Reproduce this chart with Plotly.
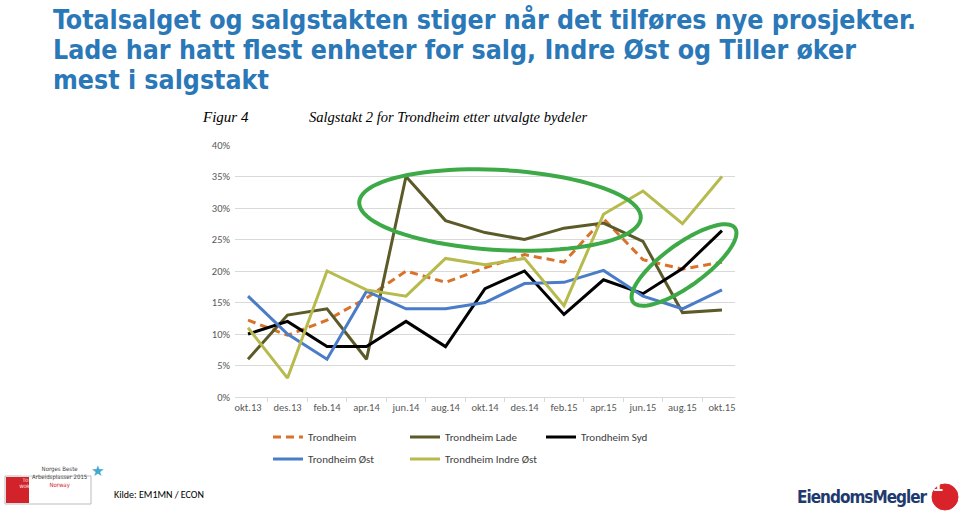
import math
import plotly.graph_objects as go

# ---------------- data ----------------
months = ["okt.13", "des.13", "feb.14", "apr.14", "jun.14", "aug.14", "okt.14",
          "des.14", "feb.15", "apr.15", "jun.15", "aug.15", "okt.15"]

trondheim = [12.2, 9.8, 12.2, 15.7, 20.0, 18.2, 20.5, 22.6, 21.4, 28.3, 21.8, 20.3, 21.4]
lade = [6.0, 13.0, 14.0, 6.0, 35.0, 28.0, 26.1, 25.0, 26.8, 27.6, 24.7, 13.4, 13.8]
syd = [10.0, 12.0, 8.0, 8.0, 12.0, 8.0, 17.2, 20.0, 13.1, 18.6, 16.4, 20.4, 26.4]
ost = [16.0, 10.0, 6.0, 16.8, 14.0, 14.0, 15.0, 18.0, 18.2, 20.1, 16.0, 14.0, 17.0]
indre_ost = [11.0, 3.0, 20.0, 17.0, 16.0, 22.0, 21.0, 22.0, 14.5, 29.0, 32.7, 27.5, 35.0]

W, H = 960, 512
# plot area in window pixel coordinates
PL, PR, PT, PB = 235, 735, 145, 397


def px2paper(x, y):
    return (x - PL) / (PR - PL), (PB - y) / (PB - PT)


def ellipse_path(cx, cy, a, b, theta_deg, n=90):
    th = math.radians(theta_deg)
    pts = []
    for i in range(n + 1):
        t = 2 * math.pi * i / n
        x = cx + a * math.cos(t) * math.cos(th) - b * math.sin(t) * math.sin(th)
        y = cy + a * math.cos(t) * math.sin(th) + b * math.sin(t) * math.cos(th)
        px, py = px2paper(x, y)
        pts.append(f"{px:.5f},{py:.5f}")
    return "M " + " L ".join(pts) + " Z"


fig = go.Figure()

series = [
    ("Trondheim", trondheim, "#D9732B", "8px,5px", "legend"),
    ("Trondheim Lade", lade, "#5B5A28", "solid", "legend2"),
    ("Trondheim Syd", syd, "#000000", "solid", "legend3"),
    ("Trondheim Øst", ost, "#4A7CC8", "solid", "legend"),
    ("Trondheim Indre Øst", indre_ost, "#B7BA4C", "solid", "legend2"),
]
for name, vals, col, dash, leg in series:
    fig.add_trace(go.Scatter(
        x=months, y=vals, mode="lines", name=name,
        line=dict(color=col, width=3, dash=dash),
        legend=leg, legendgroup=name, hoverinfo="skip"))

xtickfont = dict(family="Carlito, Lato, Liberation Sans, sans-serif", size=10.5, color="#595959")
ytickfont = dict(family="Carlito, Lato, Liberation Sans, sans-serif", size=10.5, color="#595959")
legfont = dict(family="Carlito, Lato, Liberation Sans, sans-serif", size=11, color="#404040")


def leg(xpx, ycenter):
    return dict(orientation="v", x=px2paper(xpx, 0)[0], xanchor="left",
                y=px2paper(0, ycenter)[1], yanchor="middle",
                font=legfont, bgcolor="rgba(0,0,0,0)", itemwidth=30,
                traceorder="grouped", tracegroupgap=3)


fig.update_layout(
    width=W, height=H,
    margin=dict(l=PL, r=W - PR, t=PT, b=H - PB, autoexpand=False),
    paper_bgcolor="white", plot_bgcolor="white",
    showlegend=True,
    xaxis=dict(type="category", range=[-0.33, 12.33], showgrid=False,
               showline=True, linecolor="#D9D9D9", linewidth=1,
               ticks="outside", tickson="boundaries", ticklen=4, tickcolor="#D9D9D9",
               tickangle=0, tickfont=xtickfont, fixedrange=True),
    yaxis=dict(range=[0, 40], dtick=5, ticksuffix="%", showgrid=True,
               gridcolor="#D9D9D9", gridwidth=1, zeroline=False,
               ticklabelstandoff=4, tickfont=ytickfont, fixedrange=True),
    legend=leg(268, 448),
    legend2=leg(405, 448),
    legend3=leg(541, 437),
)

# highlight ellipses
fig.add_shape(type="path", xref="paper", yref="paper",
              path=ellipse_path(500, 210, 141, 40, 3.2),
              line=dict(color="#3DAA47", width=4))
fig.add_shape(type="path", xref="paper", yref="paper",
              path=ellipse_path(684, 265, 63, 21, -36),
              line=dict(color="#3DAA47", width=4))

# page title
title_lines = ["Totalsalget og salgstakten stiger når det tilføres nye prosjekter.",
               "Lade har hatt flest enheter for salg, Indre Øst og Tiller øker",
               "mest i salgstakt"]
for i, line in enumerate(title_lines):
    fig.add_annotation(xref="paper", yref="paper",
                       x=px2paper(51, 0)[0], y=px2paper(0, 19 + 30 * i)[1],
                       xanchor="left", yanchor="middle", showarrow=False,
                       text=f"<b>{line}</b>",
                       font=dict(family="Liberation Sans Narrow, DejaVu Sans Condensed, Arial Narrow, sans-serif",
                                 size=26.5, color="#2A78B8"))

# chart heading
serif = "Liberation Serif, Times New Roman, serif"
fig.add_annotation(xref="paper", yref="paper", x=px2paper(200, 0)[0], y=px2paper(0, 117)[1],
                   xanchor="left", yanchor="middle", showarrow=False,
                   text="<i>Figur 4</i>", font=dict(family=serif, size=15, color="#000"))
fig.add_annotation(xref="paper", yref="paper", x=px2paper(307, 0)[0], y=px2paper(0, 117)[1],
                   xanchor="left", yanchor="middle", showarrow=False,
                   text="<i>Salgstakt 2 for Trondheim etter utvalgte bydeler</i>",
                   font=dict(family=serif, size=14.5, color="#000"))

# source
fig.add_annotation(xref="paper", yref="paper", x=px2paper(112, 0)[0], y=px2paper(0, 494)[1],
                   xanchor="left", yanchor="middle", showarrow=False,
                   text="Kilde: EM1MN / ECON",
                   font=dict(family="Carlito, Lato, Liberation Sans, sans-serif", size=10, color="#000"))

# Great place to work logo (approximate)
x0, y0 = px2paper(5, 476)
x1, y1 = px2paper(91, 504)
fig.add_shape(type="rect", xref="paper", yref="paper", x0=x0, y0=y0, x1=x1, y1=y1,
              line=dict(color="#BBBBBB", width=1), fillcolor="white")
x0, y0 = px2paper(6, 477)
x1, y1 = px2paper(29, 503)
fig.add_shape(type="rect", xref="paper", yref="paper", x0=x0, y0=y0, x1=x1, y1=y1,
              line=dict(width=0), fillcolor="#D2232A")
fig.add_annotation(xref="paper", yref="paper", x=px2paper(17.5, 0)[0], y=px2paper(0, 490)[1],
                   showarrow=False, text="GREAT<br>PLACE<br>TO<br>WORK", borderpad=0,
                   font=dict(family="DejaVu Sans Condensed, sans-serif", size=4.5, color="white"))
fig.add_annotation(xref="paper", yref="paper", x=px2paper(31, 0)[0], y=px2paper(0, 490)[1],
                   xanchor="left", showarrow=False, borderpad=0,
                   text="Norges Beste<br>Arbeidsplasser 2015<br><span style='color:#D2232A'>Norway</span>",
                   font=dict(family="DejaVu Sans Condensed, sans-serif", size=6, color="#444"))
fig.add_annotation(xref="paper", yref="paper", x=px2paper(90, 0)[0], y=px2paper(0, 481)[1],
                   showarrow=False, text="★", borderpad=0,
                   font=dict(family="DejaVu Sans", size=15, color="#3FA9D0"))

# EiendomsMegler logo
fig.add_annotation(xref="paper", yref="paper", x=px2paper(930, 0)[0], y=px2paper(0, 497)[1],
                   xanchor="right", yanchor="middle", showarrow=False,
                   text="<b><span style='letter-spacing:-1px'>EiendomsMegler</span></b>",
                   font=dict(family="Liberation Sans Narrow, DejaVu Sans Condensed, sans-serif",
                             size=17, color="#1E3A6E"))
x0, y0 = px2paper(932, 484)
x1, y1 = px2paper(958, 510)
fig.add_shape(type="circle", xref="paper", yref="paper", x0=x0, y0=y0, x1=x1, y1=y1,
              line=dict(color="#D8232A", width=1), fillcolor="#D8232A")
fig.add_annotation(xref="paper", yref="paper", x=px2paper(945, 0)[0], y=px2paper(0, 497)[1],
                   showarrow=False, text="<b>1</b>",
                   font=dict(family="Liberation Sans, sans-serif", size=18, color="white"))

# remove the browser's default 8px body margin so the figure fills the window
fig.write_html("out.html", config={"displayModeBar": False},
               post_script="document.body.style.margin='0';")
